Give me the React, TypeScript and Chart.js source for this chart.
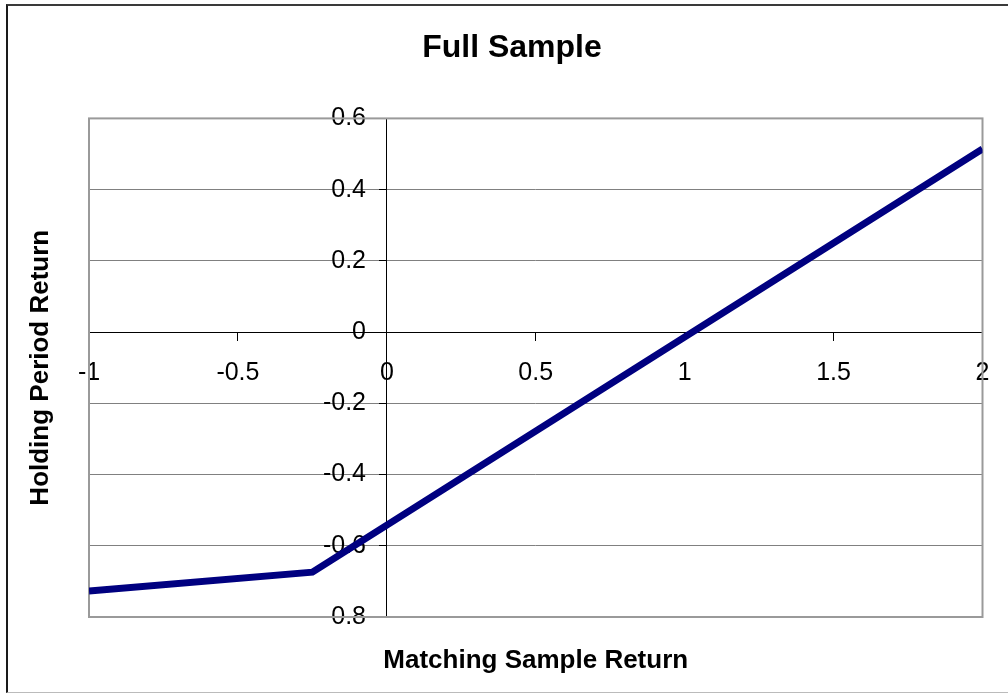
import React, { useEffect, useRef } from "react";
import { Chart, registerables } from "chart.js";

Chart.register(...registerables);

const titleText = "Full Sample";
const xTitle = "Matching Sample Return";
const yTitle = "Holding Period Return";

const xValues = [-1, -0.25, 2];
const yValues = [-0.727, -0.674, 0.514];

const xTicks = { min: -1, max: 2, step: 0.5 };
const yTicks = { min: -0.8, max: 0.6, step: 0.2 };

const FONT = "'Liberation Sans', Arial, sans-serif";

const plotBorder = {
  id: "plotBorder",
  beforeDatasetsDraw(chart: any) {
    const { ctx, chartArea } = chart;
    ctx.save();
    ctx.strokeStyle = "#9a9a9a";
    ctx.lineWidth = 2;
    ctx.strokeRect(chartArea.left, chartArea.top, chartArea.right - chartArea.left, chartArea.bottom - chartArea.top);
    ctx.restore();
  },
};

const fmt = (v: any) => String(Math.round(Number(v) * 10) / 10);

export default function App() {
  const ref = useRef<HTMLCanvasElement>(null);
  useEffect(() => {
    if (!ref.current) return;
    const data = xValues.map((x, i) => ({ x, y: yValues[i] }));
    const chart = new Chart(ref.current, {
      type: "line",
      data: {
        datasets: [
          {
            data,
            borderColor: "#000080",
            backgroundColor: "#000080",
            borderWidth: 7,
            pointRadius: 0,
            borderJoinStyle: "miter",
            xAxisID: "x",
            yAxisID: "y",
          },
        ],
      },
      plugins: [plotBorder],
      options: {
        responsive: false,
        animation: false,
        layout: { padding: 0 },
        plugins: {
          legend: { display: false },
          tooltip: { enabled: false },
          title: {
            display: true,
            text: titleText,
            color: "#000",
            font: { family: FONT, size: 32, weight: "bold" },
            padding: { top: 29, bottom: 51 },
          },
        },
        scales: {
          x: {
            type: "linear",
            position: { y: 0 } as any,
            min: xTicks.min,
            max: xTicks.max,
            ticks: {
              stepSize: xTicks.step,
              color: "#000",
              font: { family: FONT, size: 25 },
              padding: 18,
              maxRotation: 0,
              autoSkip: false,
              callback: fmt,
            },
            grid: { drawOnChartArea: false, drawTicks: true, tickLength: 8, tickColor: "#000" },
            border: { display: true, color: "#000", width: 1 },
          },
          y: {
            type: "linear",
            position: { x: 0 } as any,
            min: yTicks.min,
            max: yTicks.max,
            ticks: {
              stepSize: yTicks.step,
              color: "#000",
              font: { family: FONT, size: 25 },
              padding: 14,
              autoSkip: false,
              callback: (v: any) => fmt(v) + "   ",
            },
            grid: { color: "#808080", drawTicks: true, tickLength: 7, tickColor: "#000" },
            border: { display: true, color: "#000", width: 1 },
          },
          x2: {
            type: "linear",
            position: "bottom",
            display: true,
            ticks: { display: false },
            grid: { display: false },
            border: { display: false },
            title: {
              display: true,
              text: xTitle,
              color: "#000",
              font: { family: FONT, size: 26, weight: "bold" },
              padding: { top: 0, bottom: 17.4 },
            },
            afterFit: (s: any) => {
              s.height = 77;
            },
          },
          y2: {
            type: "linear",
            position: "left",
            display: true,
            ticks: { display: false },
            grid: { display: false },
            border: { display: false },
            title: {
              display: true,
              text: yTitle,
              color: "#000",
              font: { family: FONT, size: 26, weight: "bold" },
              padding: { top: 25, bottom: 0 },
            },
            afterFit: (s: any) => {
              s.width = 89;
            },
          },
          y3: {
            type: "linear",
            position: "right",
            display: true,
            ticks: { display: false },
            grid: { display: false },
            border: { display: false },
            afterFit: (s: any) => {
              s.width = 41.5;
            },
          },
        },
      },
    } as any);
    return () => chart.destroy();
  }, []);

  return (
    <div style={{ position: "fixed", left: 0, top: 0, width: 1008, height: 694, overflow: "hidden", background: "#fff" }}>
      <div
        style={{
          position: "absolute",
          left: 6,
          top: 4,
          width: 1010,
          height: 686,
          borderTop: "2px solid #3a3a3a",
          borderLeft: "2px solid #1a1a1a",
          borderBottom: "1px solid #bbbbbb",
        }}
      />
      <canvas ref={ref} width={1024} height={694} style={{ position: "absolute", left: 0, top: 0, width: 1024, height: 694 }} />
    </div>
  );
}
